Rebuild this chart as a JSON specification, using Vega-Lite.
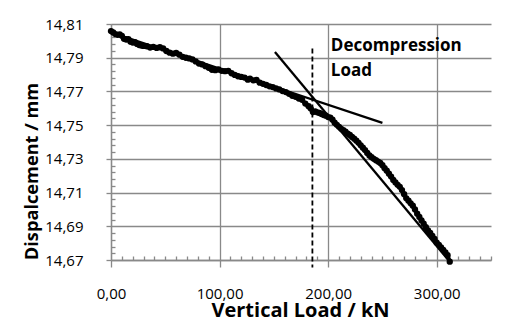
{
  "$schema": "https://vega.github.io/schema/vega-lite/v6.json",
  "width": 380,
  "height": 236,
  "autosize": {"type": "none"},
  "padding": {"left": 111, "top": 24, "right": 38, "bottom": 60},
  "background": "white",
  "config": {
    "font": "Open Sans",
    "view": {"stroke": null},
    "axis": {"labelFont": "Open Sans", "titleFont": "Open Sans"}
  },
  "datasets": {
    "curve": [
      {"load": 0, "disp": 14.8058}, {"load": 2, "disp": 14.805}, {"load": 4, "disp": 14.804}, {"load": 6, "disp": 14.8036},
      {"load": 8, "disp": 14.8038}, {"load": 10, "disp": 14.803}, {"load": 12, "disp": 14.8012}, {"load": 14, "disp": 14.8008},
      {"load": 16, "disp": 14.801}, {"load": 18, "disp": 14.7995}, {"load": 20, "disp": 14.799}, {"load": 22, "disp": 14.7992},
      {"load": 24, "disp": 14.7982}, {"load": 26, "disp": 14.7975}, {"load": 28, "disp": 14.7972}, {"load": 30, "disp": 14.797},
      {"load": 33, "disp": 14.7968}, {"load": 36, "disp": 14.796}, {"load": 39, "disp": 14.7964}, {"load": 42, "disp": 14.7958},
      {"load": 45, "disp": 14.7962}, {"load": 48, "disp": 14.7955}, {"load": 51, "disp": 14.794}, {"load": 54, "disp": 14.793},
      {"load": 57, "disp": 14.7924}, {"load": 60, "disp": 14.7928}, {"load": 63, "disp": 14.7918}, {"load": 66, "disp": 14.7905},
      {"load": 69, "disp": 14.79}, {"load": 72, "disp": 14.7896}, {"load": 75, "disp": 14.789}, {"load": 78, "disp": 14.7878},
      {"load": 81, "disp": 14.7865}, {"load": 84, "disp": 14.786}, {"load": 87, "disp": 14.785}, {"load": 90, "disp": 14.784},
      {"load": 93, "disp": 14.7828}, {"load": 96, "disp": 14.7826}, {"load": 99, "disp": 14.783}, {"load": 102, "disp": 14.7822},
      {"load": 105, "disp": 14.782}, {"load": 108, "disp": 14.7822}, {"load": 111, "disp": 14.7808}, {"load": 114, "disp": 14.7798},
      {"load": 117, "disp": 14.779}, {"load": 120, "disp": 14.7786}, {"load": 123, "disp": 14.7782}, {"load": 126, "disp": 14.777},
      {"load": 128, "disp": 14.7776}, {"load": 131, "disp": 14.7766}, {"load": 134, "disp": 14.7768}, {"load": 137, "disp": 14.7752},
      {"load": 140, "disp": 14.7745}, {"load": 143, "disp": 14.7738}, {"load": 146, "disp": 14.773}, {"load": 149, "disp": 14.7726},
      {"load": 152, "disp": 14.7718}, {"load": 155, "disp": 14.7712}, {"load": 158, "disp": 14.7702}, {"load": 161, "disp": 14.7696},
      {"load": 164, "disp": 14.7686}, {"load": 167, "disp": 14.7674}, {"load": 170, "disp": 14.7668}, {"load": 173, "disp": 14.7658},
      {"load": 176, "disp": 14.765}, {"load": 179, "disp": 14.7628}, {"load": 182, "disp": 14.7612}, {"load": 184, "disp": 14.7598},
      {"load": 186, "disp": 14.7578}, {"load": 188, "disp": 14.7582}, {"load": 190, "disp": 14.7576}, {"load": 192, "disp": 14.7572},
      {"load": 194, "disp": 14.7566}, {"load": 196, "disp": 14.756}, {"load": 198, "disp": 14.7556}, {"load": 200, "disp": 14.7548},
      {"load": 202, "disp": 14.7545}, {"load": 204, "disp": 14.7532}, {"load": 206, "disp": 14.7514}, {"load": 208, "disp": 14.7502},
      {"load": 210, "disp": 14.749}, {"load": 212, "disp": 14.7478}, {"load": 214, "disp": 14.747}, {"load": 216, "disp": 14.7462},
      {"load": 218, "disp": 14.745}, {"load": 220, "disp": 14.7442}, {"load": 222, "disp": 14.743}, {"load": 224, "disp": 14.742},
      {"load": 226, "disp": 14.7408}, {"load": 228, "disp": 14.7395}, {"load": 230, "disp": 14.738}, {"load": 232, "disp": 14.7366},
      {"load": 234, "disp": 14.7352}, {"load": 236, "disp": 14.7335}, {"load": 238, "disp": 14.732}, {"load": 240, "disp": 14.731},
      {"load": 242, "disp": 14.73}, {"load": 244, "disp": 14.7292}, {"load": 246, "disp": 14.7284}, {"load": 248, "disp": 14.7276},
      {"load": 250, "disp": 14.7262}, {"load": 252, "disp": 14.7245}, {"load": 254, "disp": 14.723}, {"load": 256, "disp": 14.7212},
      {"load": 258, "disp": 14.7195}, {"load": 260, "disp": 14.7175}, {"load": 262, "disp": 14.716}, {"load": 264, "disp": 14.7146},
      {"load": 266, "disp": 14.7134}, {"load": 268, "disp": 14.7115}, {"load": 270, "disp": 14.709}, {"load": 272, "disp": 14.7066},
      {"load": 274, "disp": 14.7052}, {"load": 276, "disp": 14.7036}, {"load": 278, "disp": 14.7022}, {"load": 280, "disp": 14.7},
      {"load": 282, "disp": 14.6975}, {"load": 284, "disp": 14.6955}, {"load": 286, "disp": 14.6935}, {"load": 288, "disp": 14.6915},
      {"load": 290, "disp": 14.6895}, {"load": 292, "disp": 14.6875}, {"load": 294, "disp": 14.686}, {"load": 296, "disp": 14.6843},
      {"load": 298, "disp": 14.6825}, {"load": 300, "disp": 14.6803}, {"load": 302, "disp": 14.679}, {"load": 304, "disp": 14.6775},
      {"load": 306, "disp": 14.676}, {"load": 308, "disp": 14.6745}, {"load": 310, "disp": 14.6728}, {"load": 312, "disp": 14.669}
    ],
    "tangents": [
      {"series": "initial", "load": 0, "disp": 14.805},
      {"series": "initial", "load": 250, "disp": 14.7513},
      {"series": "final", "load": 151, "disp": 14.7934},
      {"series": "final", "load": 312, "disp": 14.669}
    ],
    "marker": [
      {"load": 185.5, "top": 14.7955, "bottom": 14.6655}
    ],
    "label": [
      {"load": 202.5, "disp": 14.8017, "text": "Decompression\nLoad"}
    ]
  },
  "resolve": {"scale": {"x": "independent", "y": "independent"}, "axis": {"x": "independent", "y": "independent"}},
  "layer": [
    {
      "data": {"name": "curve"},
      "mark": {"type": "line", "opacity": 0},
      "encoding": {
        "x": {
          "field": "load", "type": "quantitative",
          "scale": {"domain": [0, 350], "nice": false, "zero": false},
          "axis": {
            "orient": "top", "offset": -236, "title": null, "labels": false, "grid": false, "domain": false, "tickCount": 100,
            "values": [10, 20, 30, 40, 50, 60, 70, 80, 90, 110, 120, 130, 140, 150, 160, 170, 180, 190, 210, 220, 230, 240, 250, 260, 270, 280, 290, 310, 320, 330, 340, 350],
            "tickSize": 4, "tickColor": "#898989", "tickWidth": 1.3
          }
        },
        "y": {
          "field": "disp", "type": "quantitative",
          "scale": {"domain": [14.67, 14.81], "nice": false, "zero": false},
          "axis": {
            "orient": "right", "offset": -380, "title": null, "labels": false, "grid": false, "domain": false, "tickCount": 100,
            "values": [14.674, 14.678, 14.682, 14.686, 14.694, 14.698, 14.702, 14.706, 14.714, 14.718, 14.722, 14.726, 14.734, 14.738, 14.742, 14.746, 14.754, 14.758, 14.762, 14.766, 14.774, 14.778, 14.782, 14.786, 14.794, 14.798, 14.802, 14.806],
            "tickSize": 4, "tickColor": "#898989", "tickWidth": 1.3
          }
        }
      }
    },
    {
      "layer": [
        {
          "data": {"name": "curve"},
          "mark": {"type": "line", "color": "black", "strokeWidth": 4, "point": {"filled": true, "size": 40, "color": "black"}},
          "encoding": {
            "x": {
              "field": "load", "type": "quantitative",
              "scale": {"domain": [0, 350], "nice": false, "zero": false},
              "axis": {
                "orient": "bottom",
                "title": "Vertical Load / kN",
                "values": [0, 100, 200, 300], "tickCount": 100,
                "labelExpr": "replace(format(datum.value, '.2f'), '.', ',')",
                "labelFontSize": 15, "labelColor": "black", "labelPadding": 19,
                "labelFlush": false, "labelOverlap": false,
                "tickSize": 7, "tickColor": "#898989", "tickWidth": 1.3,
                "domainColor": "#898989", "domainWidth": 1.3,
                "grid": true, "gridColor": "#898989", "gridWidth": 1.3,
                "titleFontSize": 20, "titleFontWeight": "bold", "titleColor": "black",
                "titleX": 189, "titleY": 56, "titleBaseline": "alphabetic", "titleAlign": "center"
              }
            },
            "y": {
              "field": "disp", "type": "quantitative",
              "scale": {"domain": [14.67, 14.81], "nice": false, "zero": false},
              "axis": {
                "orient": "left",
                "title": "Dispalcement / mm",
                "values": [14.67, 14.69, 14.71, 14.73, 14.75, 14.77, 14.79, 14.81], "tickCount": 100,
                "labelExpr": "replace(format(datum.value, '.2f'), '.', ',')",
                "labelFontSize": 15, "labelColor": "black", "labelPadding": 23,
                "labelFlush": false, "labelOverlap": false,
                "tickSize": 5, "tickColor": "#898989", "tickWidth": 1.3,
                "domainColor": "#898989", "domainWidth": 1.3,
                "grid": true, "gridColor": "#898989", "gridWidth": 1.3,
                "titleFontSize": 18.2, "titleFontWeight": "bold", "titleColor": "black",
                "titleX": -74, "titleY": 147, "titleBaseline": "alphabetic", "titleAlign": "center", "titleAngle": -90
              }
            }
          }
        },
        {
          "data": {"name": "tangents"},
          "mark": {"type": "line", "color": "black", "strokeWidth": 2.3},
          "encoding": {
            "x": {"field": "load", "type": "quantitative"},
            "y": {"field": "disp", "type": "quantitative"},
            "detail": {"field": "series"}
          }
        },
        {
          "data": {"name": "marker"},
          "mark": {"type": "rule", "color": "black", "strokeWidth": 1.8, "strokeDash": [5, 3]},
          "encoding": {
            "x": {"field": "load", "type": "quantitative"},
            "y": {"field": "top", "type": "quantitative"},
            "y2": {"field": "bottom"}
          }
        },
        {
          "data": {"name": "label"},
          "mark": {"type": "text", "align": "left", "baseline": "top", "fontSize": 17, "fontWeight": "bold", "font": "Open Sans", "lineBreak": "\n", "lineHeight": 25, "color": "black"},
          "encoding": {
            "x": {"field": "load", "type": "quantitative"},
            "y": {"field": "disp", "type": "quantitative"},
            "text": {"field": "text"}
          }
        }
      ]
    }
  ]
}
